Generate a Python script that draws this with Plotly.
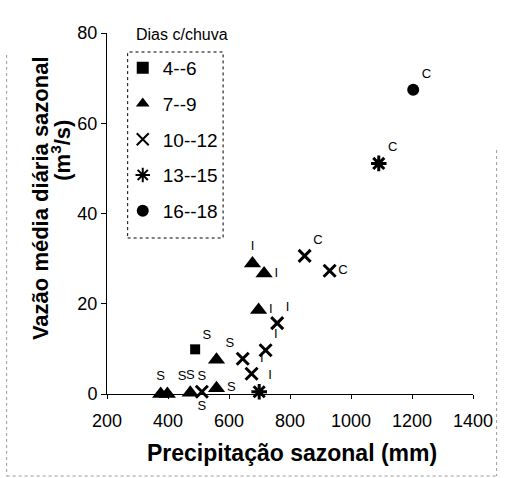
import plotly.graph_objects as go

# ---- data ----
groups = ["4--6", "7--9", "10--12", "13--15", "16--18"]

prec_4_6 = [489]
vaz_4_6 = [9.9]
lab_4_6 = ["S"]

prec_7_9 = [376, 398, 473, 559, 559, 677, 715, 697]
vaz_7_9 = [0.0, 0.0, 0.3, 1.3, 7.6, 28.9, 26.7, 18.6]
lab_7_9 = ["S", "S", "S", "S", "S", "I", "I", "I"]

prec_10_12 = [511, 645, 674, 720, 758, 848, 930]
vaz_10_12 = [0.5, 7.8, 4.5, 9.7, 15.7, 30.6, 27.3]
lab_10_12 = ["S", "S", "I", "I", "I", "C", "C"]

prec_13_15 = [699, 1091]
vaz_13_15 = [0.5, 51.1]
lab_13_15 = ["I", "C"]

prec_16_18 = [1204]
vaz_16_18 = [67.4]
lab_16_18 = ["C"]

x_ticks = [200, 400, 600, 800, 1000, 1200, 1400]
y_ticks = [0, 20, 40, 60, 80]

FONT = "Liberation Sans, Arial, sans-serif"

# pixel geometry of plot area (style)
W, H = 505, 478
L, R, T, B = 107, 479, 33, 394
pw, ph = R - L, B - T
def px(x):
    return (x - L) / pw
def py(y):
    return (B - y) / ph

series = [
    (groups[0], prec_4_6, vaz_4_6, lab_4_6,
     dict(symbol="square", size=10, color="black"),
     ["top right"]),
    (groups[1], prec_7_9, vaz_7_9, lab_7_9,
     dict(symbol="triangle-up", size=15, color="black"),
     ["top center", "top right", "top center", "middle right", "bottom left",
      "top center", "middle right", "middle right"]),
    (groups[2], prec_10_12, vaz_10_12, lab_10_12,
     dict(symbol="x-thin", size=12, color="black", line=dict(width=3, color="black")),
     ["bottom center", "top left", "top right", "top right", "top right",
      "top right", "middle right"]),
    (groups[3], prec_13_15, vaz_13_15, lab_13_15,
     dict(symbol="asterisk", size=13, color="black", line=dict(width=3, color="black")),
     ["top right", "top right"]),
    (groups[4], prec_16_18, vaz_16_18, lab_16_18,
     dict(symbol="circle", size=12, color="black"),
     ["top right"]),
]

fig = go.Figure()
for name, xs, ys, labs, mk, tp in series:
    fig.add_trace(go.Scatter(
        x=xs, y=ys, text=labs, mode="markers+text", name=name,
        legendgroup=name, marker=mk, textposition=tp,
        textfont=dict(family=FONT, size=13, color="black"),
        cliponaxis=False,
    ))

fig.update_layout(
    width=W, height=H, autosize=False,
    margin=dict(l=L, r=W - R, t=T, b=H - B, pad=0),
    paper_bgcolor="white", plot_bgcolor="white",
    font=dict(family=FONT, color="black", size=18),
    showlegend=True,
    legend=dict(
        x=px(123), y=py(49), xanchor="left", yanchor="top",
        bgcolor="rgba(0,0,0,0)", borderwidth=0,
        font=dict(family=FONT, size=19, color="black"),
        tracegroupgap=8, itemsizing="constant",
    ),
    xaxis=dict(
        range=[200, 1400], tickvals=x_ticks, ticktext=[str(v) for v in x_ticks],
        showgrid=False, zeroline=False, showline=True, linecolor="black",
        linewidth=1, ticks="outside", ticklen=4, tickcolor="black",
        ticklabelstandoff=6,
        tickfont=dict(family=FONT, size=18, color="black"),
    ),
    yaxis=dict(
        range=[0, 80], tickvals=y_ticks, ticktext=[str(v) for v in y_ticks],
        showgrid=False, zeroline=False, showline=True, linecolor="black",
        linewidth=1, ticks="outside", ticklen=5, tickcolor="black",
        tickfont=dict(family=FONT, size=18, color="black"),
    ),
)

annos = [
    dict(text="Dias c/chuva", x=px(183), y=py(35), font=dict(size=16)),
    dict(text="<b>Precipitação sazonal (mm)</b>", x=px(295), y=py(453), font=dict(size=23)),
    dict(text="<b>Vazão média diária sazonal</b>", x=px(39), y=py(198), font=dict(size=22), textangle=-90),
    dict(text="<b>(m<sup>3</sup>/s)</b>", x=px(60), y=py(150), font=dict(size=22), textangle=-90),
]
for a in annos:
    fig.add_annotation(xref="paper", yref="paper", showarrow=False,
                       xanchor="center", yanchor="middle", **a)

# legend frame (dashed, as in the scan)
fig.add_shape(type="rect", xref="paper", yref="paper",
              x0=px(128), x1=px(225), y0=py(238), y1=py(52),
              line=dict(color="black", width=1, dash="dot"))

# scanned-page frame
frame = dict(color="#9a9a9a", width=1, dash="dot")
fig.add_shape(type="line", xref="paper", yref="paper", x0=px(5), x1=px(5), y0=py(55), y1=py(476), line=frame)
fig.add_shape(type="line", xref="paper", yref="paper", x0=px(5), x1=px(503), y0=py(476), y1=py(476), line=frame)
fig.add_shape(type="line", xref="paper", yref="paper", x0=px(503), x1=px(503), y0=py(150), y1=py(476), line=frame)

fig.write_html("out.html", config={"displayModeBar": False},
               post_script="document.body.style.margin='0';document.body.style.overflow='hidden';")
